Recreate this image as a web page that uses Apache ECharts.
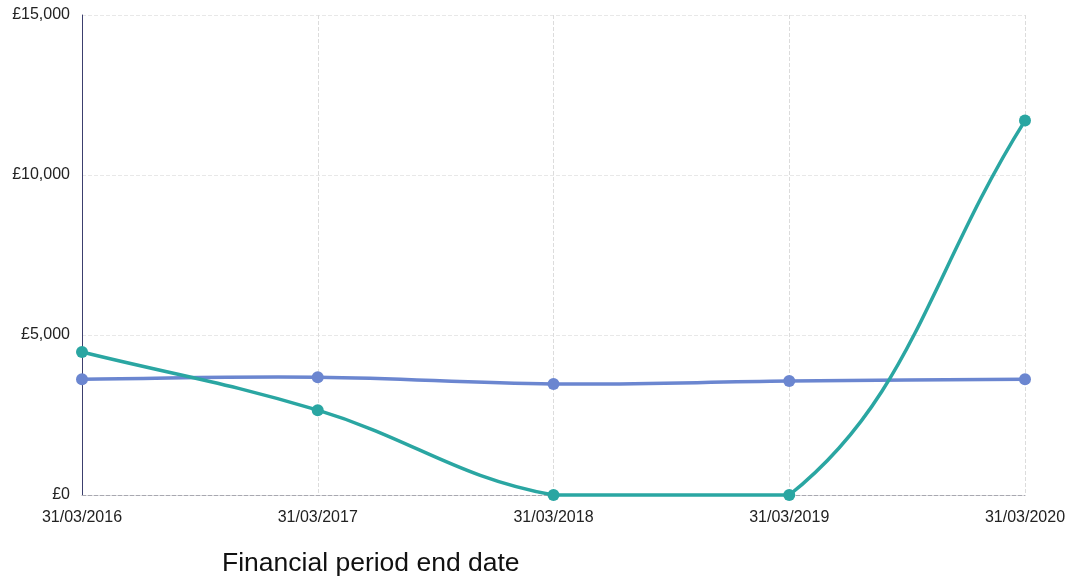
<!DOCTYPE html>
<html><head><meta charset="utf-8">
<script src="https://cdn.jsdelivr.net/npm/echarts@6/dist/echarts.min.js"></script>
<style>html,body{margin:0;padding:0;background:#fff}#c{width:1082px;height:581px}</style>
</head><body><div id="c"></div>
<script>
const categories = ['31/03/2016','31/03/2017','31/03/2018','31/03/2019','31/03/2020'];
const seriesBlue = [3620, 3680, 3470, 3560, 3620];
const seriesTeal = [4470, 2650, 0, 0, 11700];
const yTicks = [0, 5000, 10000, 15000];
const axisTitle = 'Financial period end date';

const BLUE = '#6b86d0', TEAL = '#2aa6a2';
const TENSION = 0.4;

// Spline segment (tension-based cubic with control points capped to the plot area),
// all positions obtained from the axes through api.coord.
function splineRenderer(values, color) {
  return function (params, api) {
    const i = params.dataIndex;
    if (i >= values.length - 1) return null;
    const cs = params.coordSys;
    const pts = values.map((v, k) => api.coord([k, v]));
    const cap = p => [Math.min(Math.max(p[0], cs.x), cs.x + cs.width),
                      Math.min(Math.max(p[1], cs.y), cs.y + cs.height)];
    function ctrl(k) {
      const prev = pts[k - 1] || pts[k], cur = pts[k], next = pts[k + 1] || pts[k];
      const d01 = Math.hypot(cur[0] - prev[0], cur[1] - prev[1]);
      const d12 = Math.hypot(next[0] - cur[0], next[1] - cur[1]);
      let s01 = d01 / (d01 + d12), s12 = d12 / (d01 + d12);
      if (!isFinite(s01)) s01 = 0; if (!isFinite(s12)) s12 = 0;
      const fa = TENSION * s01, fb = TENSION * s12;
      const dx = next[0] - prev[0], dy = next[1] - prev[1];
      return {
        prev: cap([cur[0] - fa * dx, cur[1] - fa * dy]),
        next: cap([cur[0] + fb * dx, cur[1] + fb * dy])
      };
    }
    const c0 = ctrl(i), c1 = ctrl(i + 1);
    return {
      type: 'bezierCurve',
      shape: {
        x1: pts[i][0], y1: pts[i][1], x2: pts[i + 1][0], y2: pts[i + 1][1],
        cpx1: c0.next[0], cpy1: c0.next[1], cpx2: c1.prev[0], cpy2: c1.prev[1]
      },
      style: { stroke: color, lineWidth: 3.5, fill: null, lineCap: 'round' },
      silent: true
    };
  };
}

const chart = echarts.init(document.getElementById('c'));
chart.setOption({
  animation: false,
  backgroundColor: '#fff',
  grid: {left: 82, right: 57, top: 15, bottom: 86, containLabel: false},
  xAxis: {
    type: 'category', data: categories, boundaryGap: false,
    axisLine: {lineStyle: {color: '#a8a8b0', width: 1, type: 'dashed'}},
    axisTick: {show: false},
    axisLabel: {color: '#222', fontFamily: 'Liberation Sans, Arial', fontSize: 16, margin: 15},
    splitLine: {show: true, lineStyle: {color: '#dcdcdc', type: 'dashed', width: 1}}
  },
  yAxis: {
    type: 'value', min: yTicks[0], max: yTicks[yTicks.length-1], interval: 5000,
    axisLine: {show: true, lineStyle: {color: '#3c3f6e', width: 1}},
    axisTick: {show: false},
    axisLabel: {color: '#222', fontFamily: 'Liberation Sans, Arial', fontSize: 16, margin: 12,
      formatter: v => '£' + v.toLocaleString('en-GB')},
    splitLine: {show: true, lineStyle: {color: '#e8e8e8', type: 'dashed', width: 1}}
  },
  graphic: [{
    type: 'text', left: 222, top: 550,
    style: {text: axisTitle, fontFamily: 'Liberation Sans, Arial', fontSize: 26.5, fill: '#111'}
  }],
  series: [
    {name: 'blue-line', type: 'custom', renderItem: splineRenderer(seriesBlue, BLUE),
     data: seriesBlue.map((v, k) => [k, v]), encode: {x: 0, y: 1}, z: 2, clip: false},
    {name: 'teal-line', type: 'custom', renderItem: splineRenderer(seriesTeal, TEAL),
     data: seriesTeal.map((v, k) => [k, v]), encode: {x: 0, y: 1}, z: 3, clip: false},
    {name: 'blue', type: 'line', data: seriesBlue,
     symbol: 'circle', symbolSize: 12, itemStyle: {color: BLUE},
     lineStyle: {width: 0, opacity: 0}, z: 4},
    {name: 'teal', type: 'line', data: seriesTeal,
     symbol: 'circle', symbolSize: 12, itemStyle: {color: TEAL},
     lineStyle: {width: 0, opacity: 0}, z: 5}
  ]
});
</script></body></html>
